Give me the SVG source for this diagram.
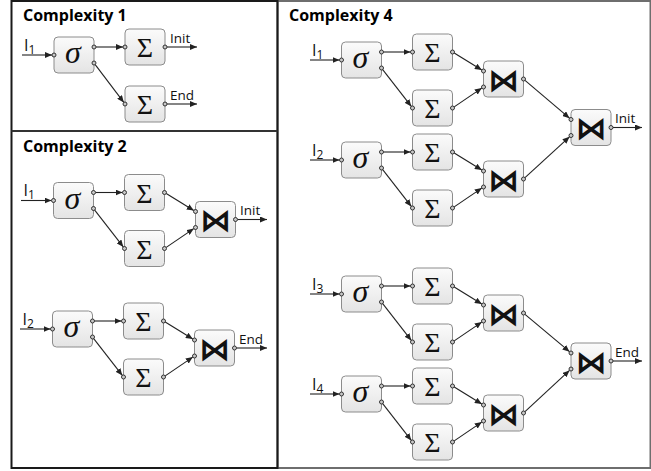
<svg xmlns="http://www.w3.org/2000/svg" width="651" height="471" viewBox="0 0 651 471">
<style>
.box{fill:url(#g);stroke:#8c8c8c;stroke-width:1}
.sig{font-family:"Liberation Serif",serif;font-style:italic;font-size:32px;fill:#111;text-anchor:middle}
.sum{font-family:"Liberation Serif",serif;font-size:28px;fill:#111;text-anchor:middle}
.bow{font-family:"DejaVu Sans",sans-serif;font-weight:bold;font-size:31px;fill:#111;text-anchor:middle}
.ttl{font-family:"Open Sans","Liberation Sans",sans-serif;font-weight:bold;font-size:16px;fill:#000}
.lbl{font-family:"Open Sans","Liberation Sans",sans-serif;font-size:13.5px;fill:#111}
.in{font-size:16px}
.sub{font-size:12px}
.port{fill:#c8c8c8;stroke:#333;stroke-width:1}
#conn line{stroke:#222;stroke-width:1.1;marker-end:url(#ah)}
</style>
<defs>
<linearGradient id="g" x1="0" y1="0" x2="0" y2="1">
<stop offset="0" stop-color="#fbfbfb"/>
<stop offset="1" stop-color="#e4e4e4"/>
</linearGradient>
<marker id="ah" markerUnits="userSpaceOnUse" markerWidth="7" markerHeight="6" refX="7" refY="3" orient="auto">
<path d="M0,0 L7,3 L0,6 z" fill="#222"/>
</marker>
</defs>
<rect width="651" height="471" fill="#fff"/>
<g id="frames">
<rect x="277.5" y="1" width="373" height="467" fill="none" stroke="#6e6e6e" stroke-width="2"/>
<rect x="11.5" y="1" width="266" height="467" fill="none" stroke="#1a1a1a" stroke-width="2"/>
<line x1="11.5" y1="131" x2="277.5" y2="131" stroke="#333" stroke-width="2"/>
<text class="ttl" x="23" y="21">Complexity 1</text>
<text class="ttl" x="23" y="152">Complexity 2</text>
<text class="ttl" x="289" y="21">Complexity 4</text>
</g>

<g id="conn">
<!-- C1 -->
<line x1="22" y1="55" x2="52" y2="55"/>
<line x1="96" y1="47" x2="123" y2="47"/>
<line x1="95.2" y1="64.6" x2="123.8" y2="102.4"/>
<line x1="167" y1="47" x2="197" y2="47"/>
<line x1="167" y1="104" x2="197" y2="104"/>
<!-- C2a -->
<line x1="21" y1="200.5" x2="51.5" y2="200.5"/>
<line x1="95.5" y1="192.5" x2="122.5" y2="192.5"/>
<line x1="94.7" y1="210.1" x2="123.3" y2="246.9"/>
<line x1="166.2" y1="193.5" x2="193.8" y2="210.5"/>
<line x1="166.2" y1="247.4" x2="193.8" y2="228.6"/>
<line x1="237.5" y1="219.5" x2="267" y2="219.5"/>
<!-- C2b -->
<line x1="20" y1="329" x2="50.5" y2="329"/>
<line x1="94.5" y1="321" x2="121.5" y2="321"/>
<line x1="93.7" y1="338.6" x2="122.3" y2="375.4"/>
<line x1="165.2" y1="322" x2="192.8" y2="339"/>
<line x1="165.2" y1="375.9" x2="192.8" y2="357.1"/>
<line x1="236.5" y1="348" x2="267" y2="348"/>
<!-- C4 s1 -->
<line x1="310" y1="60" x2="339.5" y2="60"/>
<line x1="383.5" y1="52" x2="410.5" y2="52"/>
<line x1="382.7" y1="69.6" x2="411.3" y2="106.4"/>
<line x1="454.2" y1="53" x2="481.8" y2="70"/>
<line x1="454.2" y1="106.9" x2="481.8" y2="88.1"/>
<!-- C4 s2 -->
<line x1="310" y1="160" x2="339.5" y2="160"/>
<line x1="383.5" y1="152" x2="410.5" y2="152"/>
<line x1="382.7" y1="169.6" x2="411.3" y2="206.4"/>
<line x1="454.2" y1="153" x2="481.8" y2="170"/>
<line x1="454.2" y1="206.9" x2="481.8" y2="188.1"/>
<!-- C4 F1 -->
<line x1="525" y1="80.3" x2="569.5" y2="118.2"/>
<line x1="525" y1="177.7" x2="569.5" y2="136.8"/>
<line x1="613" y1="127.5" x2="642" y2="127.5"/>
<!-- C4 s3 -->
<line x1="310" y1="294" x2="339.5" y2="294"/>
<line x1="383.5" y1="286" x2="410.5" y2="286"/>
<line x1="382.7" y1="303.6" x2="411.3" y2="340.4"/>
<line x1="454.2" y1="287" x2="481.8" y2="304"/>
<line x1="454.2" y1="340.9" x2="481.8" y2="322.1"/>
<!-- C4 s4 -->
<line x1="310" y1="394" x2="339.5" y2="394"/>
<line x1="383.5" y1="386" x2="410.5" y2="386"/>
<line x1="382.7" y1="403.6" x2="411.3" y2="440.4"/>
<line x1="454.2" y1="387" x2="481.8" y2="404"/>
<line x1="454.2" y1="440.9" x2="481.8" y2="422.1"/>
<!-- C4 F2 -->
<line x1="525" y1="314.3" x2="569.5" y2="351.7"/>
<line x1="525" y1="411.6" x2="569.5" y2="370.4"/>
<line x1="613" y1="361" x2="642" y2="361"/>
</g>

<g id="labels" class="lbl">
<text class="in" x="24" y="51">I<tspan class="sub" dy="2.5">1</tspan></text>
<text x="170" y="43">Init</text>
<text x="170" y="100">End</text>
<text class="in" x="23.5" y="196">I<tspan class="sub" dy="2.5">1</tspan></text>
<text x="240" y="215">Init</text>
<text class="in" x="22.5" y="325">I<tspan class="sub" dy="2.5">2</tspan></text>
<text x="239" y="344">End</text>
<text class="in" x="312" y="56">I<tspan class="sub" dy="2.5">1</tspan></text>
<text class="in" x="312" y="156">I<tspan class="sub" dy="2.5">2</tspan></text>
<text class="in" x="312" y="290">I<tspan class="sub" dy="2.5">3</tspan></text>
<text class="in" x="312" y="390">I<tspan class="sub" dy="2.5">4</tspan></text>
<text x="615" y="123">Init</text>
<text x="615" y="356.5">End</text>
</g>

<!-- Complexity 1 -->
<g id="c1-sigma"><rect class="box" x="54" y="37" width="40" height="36" rx="4"/><text class="sig" x="73" y="63">σ</text>
<circle class="port" cx="54" cy="55" r="2"/><circle class="port" cx="94" cy="47" r="2"/><circle class="port" cx="94" cy="63" r="2"/></g>
<g id="c1-sum1"><rect class="box" x="125" y="29" width="40" height="36" rx="4"/><text class="sum" x="145" y="57">Σ</text>
<circle class="port" cx="125" cy="47" r="2"/><circle class="port" cx="165" cy="47" r="2"/></g>
<g id="c1-sum2"><rect class="box" x="125" y="86" width="40" height="36" rx="4"/><text class="sum" x="145" y="114">Σ</text>
<circle class="port" cx="125" cy="104" r="2"/><circle class="port" cx="165" cy="104" r="2"/></g>

<!-- Complexity 2 -->
<g id="c2-sigma1"><rect class="box" x="53.5" y="182.5" width="40" height="36" rx="4"/><text class="sig" x="72.5" y="208.5">σ</text>
<circle class="port" cx="53.5" cy="200.5" r="2"/><circle class="port" cx="93.5" cy="192.5" r="2"/><circle class="port" cx="93.5" cy="208.5" r="2"/></g>
<g id="c2-sum1"><rect class="box" x="124.5" y="174.5" width="40" height="36" rx="4"/><text class="sum" x="144.5" y="202.5">Σ</text>
<circle class="port" cx="124.5" cy="192.5" r="2"/><circle class="port" cx="164.5" cy="192.5" r="2"/></g>
<g id="c2-sum2"><rect class="box" x="124.5" y="230.5" width="40" height="36" rx="4"/><text class="sum" x="144.5" y="258.5">Σ</text>
<circle class="port" cx="124.5" cy="248.5" r="2"/><circle class="port" cx="164.5" cy="248.5" r="2"/></g>
<g id="c2-join1"><rect class="box" x="195.5" y="201.5" width="40" height="36" rx="4"/><text class="bow" x="215.5" y="231">⋈</text>
<circle class="port" cx="195.5" cy="211.5" r="2"/><circle class="port" cx="195.5" cy="227.5" r="2"/><circle class="port" cx="235.5" cy="219.5" r="2"/></g>

<g id="c2-sigma2"><rect class="box" x="52.5" y="311" width="40" height="36" rx="4"/><text class="sig" x="71.5" y="337">σ</text>
<circle class="port" cx="52.5" cy="329" r="2"/><circle class="port" cx="92.5" cy="321" r="2"/><circle class="port" cx="92.5" cy="337" r="2"/></g>
<g id="c2-sum3"><rect class="box" x="123.5" y="303" width="40" height="36" rx="4"/><text class="sum" x="143.5" y="331">Σ</text>
<circle class="port" cx="123.5" cy="321" r="2"/><circle class="port" cx="163.5" cy="321" r="2"/></g>
<g id="c2-sum4"><rect class="box" x="123.5" y="359" width="40" height="36" rx="4"/><text class="sum" x="143.5" y="387">Σ</text>
<circle class="port" cx="123.5" cy="377" r="2"/><circle class="port" cx="163.5" cy="377" r="2"/></g>
<g id="c2-join2"><rect class="box" x="194.5" y="330" width="40" height="36" rx="4"/><text class="bow" x="214.5" y="359.5">⋈</text>
<circle class="port" cx="194.5" cy="340" r="2"/><circle class="port" cx="194.5" cy="356" r="2"/><circle class="port" cx="234.5" cy="348" r="2"/></g>

<!-- Complexity 4 -->
<g id="c4-sigma1"><rect class="box" x="341.5" y="42" width="40" height="36" rx="4"/><text class="sig" x="360.5" y="68">σ</text>
<circle class="port" cx="341.5" cy="60" r="2"/><circle class="port" cx="381.5" cy="52" r="2"/><circle class="port" cx="381.5" cy="68" r="2"/></g>
<g id="c4-sum1"><rect class="box" x="412.5" y="34" width="40" height="36" rx="4"/><text class="sum" x="432.5" y="62">Σ</text>
<circle class="port" cx="412.5" cy="52" r="2"/><circle class="port" cx="452.5" cy="52" r="2"/></g>
<g id="c4-sum2"><rect class="box" x="412.5" y="90" width="40" height="36" rx="4"/><text class="sum" x="432.5" y="118">Σ</text>
<circle class="port" cx="412.5" cy="108" r="2"/><circle class="port" cx="452.5" cy="108" r="2"/></g>
<g id="c4-join1"><rect class="box" x="483.5" y="61" width="40" height="36" rx="4"/><text class="bow" x="503.5" y="90.5">⋈</text>
<circle class="port" cx="483.5" cy="71" r="2"/><circle class="port" cx="483.5" cy="87" r="2"/><circle class="port" cx="523.5" cy="79" r="2"/></g>

<g id="c4-sigma2"><rect class="box" x="341.5" y="142" width="40" height="36" rx="4"/><text class="sig" x="360.5" y="168">σ</text>
<circle class="port" cx="341.5" cy="160" r="2"/><circle class="port" cx="381.5" cy="152" r="2"/><circle class="port" cx="381.5" cy="168" r="2"/></g>
<g id="c4-sum3"><rect class="box" x="412.5" y="134" width="40" height="36" rx="4"/><text class="sum" x="432.5" y="162">Σ</text>
<circle class="port" cx="412.5" cy="152" r="2"/><circle class="port" cx="452.5" cy="152" r="2"/></g>
<g id="c4-sum4"><rect class="box" x="412.5" y="190" width="40" height="36" rx="4"/><text class="sum" x="432.5" y="218">Σ</text>
<circle class="port" cx="412.5" cy="208" r="2"/><circle class="port" cx="452.5" cy="208" r="2"/></g>
<g id="c4-join2"><rect class="box" x="483.5" y="161" width="40" height="36" rx="4"/><text class="bow" x="503.5" y="190.5">⋈</text>
<circle class="port" cx="483.5" cy="171" r="2"/><circle class="port" cx="483.5" cy="187" r="2"/><circle class="port" cx="523.5" cy="179" r="2"/></g>

<g id="c4-join-final1"><rect class="box" x="571" y="109.5" width="40" height="36" rx="4"/><text class="bow" x="591" y="139">⋈</text>
<circle class="port" cx="571" cy="119.5" r="2"/><circle class="port" cx="571" cy="135.5" r="2"/><circle class="port" cx="611" cy="127.5" r="2"/></g>

<g id="c4-sigma3"><rect class="box" x="341.5" y="276" width="40" height="36" rx="4"/><text class="sig" x="360.5" y="302">σ</text>
<circle class="port" cx="341.5" cy="294" r="2"/><circle class="port" cx="381.5" cy="286" r="2"/><circle class="port" cx="381.5" cy="302" r="2"/></g>
<g id="c4-sum5"><rect class="box" x="412.5" y="268" width="40" height="36" rx="4"/><text class="sum" x="432.5" y="296">Σ</text>
<circle class="port" cx="412.5" cy="286" r="2"/><circle class="port" cx="452.5" cy="286" r="2"/></g>
<g id="c4-sum6"><rect class="box" x="412.5" y="324" width="40" height="36" rx="4"/><text class="sum" x="432.5" y="352">Σ</text>
<circle class="port" cx="412.5" cy="342" r="2"/><circle class="port" cx="452.5" cy="342" r="2"/></g>
<g id="c4-join3"><rect class="box" x="483.5" y="295" width="40" height="36" rx="4"/><text class="bow" x="503.5" y="324.5">⋈</text>
<circle class="port" cx="483.5" cy="305" r="2"/><circle class="port" cx="483.5" cy="321" r="2"/><circle class="port" cx="523.5" cy="313" r="2"/></g>

<g id="c4-sigma4"><rect class="box" x="341.5" y="376" width="40" height="36" rx="4"/><text class="sig" x="360.5" y="402">σ</text>
<circle class="port" cx="341.5" cy="394" r="2"/><circle class="port" cx="381.5" cy="386" r="2"/><circle class="port" cx="381.5" cy="402" r="2"/></g>
<g id="c4-sum7"><rect class="box" x="412.5" y="368" width="40" height="36" rx="4"/><text class="sum" x="432.5" y="396">Σ</text>
<circle class="port" cx="412.5" cy="386" r="2"/><circle class="port" cx="452.5" cy="386" r="2"/></g>
<g id="c4-sum8"><rect class="box" x="412.5" y="424" width="40" height="36" rx="4"/><text class="sum" x="432.5" y="452">Σ</text>
<circle class="port" cx="412.5" cy="442" r="2"/><circle class="port" cx="452.5" cy="442" r="2"/></g>
<g id="c4-join4"><rect class="box" x="483.5" y="395" width="40" height="36" rx="4"/><text class="bow" x="503.5" y="424.5">⋈</text>
<circle class="port" cx="483.5" cy="405" r="2"/><circle class="port" cx="483.5" cy="421" r="2"/><circle class="port" cx="523.5" cy="413" r="2"/></g>

<g id="c4-join-final2"><rect class="box" x="571" y="343" width="40" height="36" rx="4"/><text class="bow" x="591" y="372.5">⋈</text>
<circle class="port" cx="571" cy="353" r="2"/><circle class="port" cx="571" cy="369" r="2"/><circle class="port" cx="611" cy="361" r="2"/></g>
</svg>
